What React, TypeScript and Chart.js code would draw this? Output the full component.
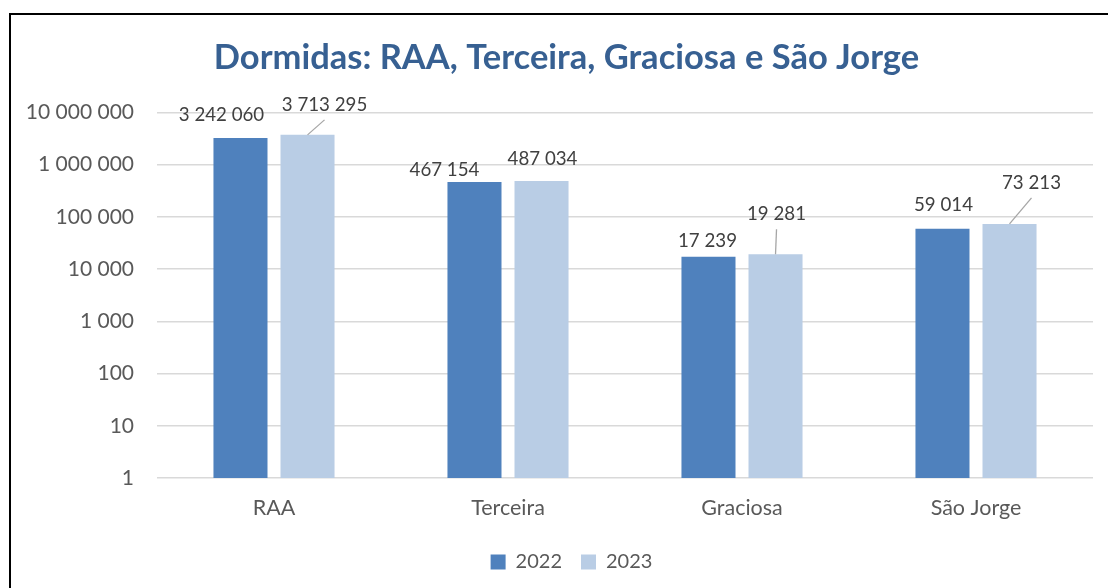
import React, { useEffect, useRef } from "react";
import { Chart, registerables } from "chart.js";

Chart.register(...registerables);

const categories = ["RAA", "Terceira", "Graciosa", "São Jorge"];
const values2022 = [3242060, 467154, 17239, 59014];
const values2023 = [3713295, 487034, 19281, 73213];
const yTicks = [1, 10, 100, 1000, 10000, 100000, 1000000, 10000000];
const seriesLabels = ["2022", "2023"];
const titleText = "Dormidas: RAA, Terceira, Graciosa e São Jorge";

const fmt = (v: number) => String(Math.round(v)).replace(/\B(?=(\d{3})+(?!\d))/g, " ");

// label placement (style): offsets from bar top-centre, and whether a leader line is drawn
const labelOffsets = [
  [
    { dx: -19, dy: -23, leader: false },
    { dx: -30, dy: -12, leader: false },
    { dx: -1, dy: -16, leader: false },
    { dx: 1, dy: -24, leader: false },
  ],
  [
    { dx: 17, dy: -30, leader: true },
    { dx: 1, dy: -22, leader: false },
    { dx: 1, dy: -40, leader: true },
    { dx: 22, dy: -41, leader: true },
  ],
];

const FONT = "Lato, 'Open Sans', sans-serif";

const dataLabelPlugin = {
  id: "dataLabels",
  afterDatasetsDraw(chart: any) {
    const ctx = chart.ctx;
    ctx.save();
    chart.data.datasets.forEach((ds: any, di: number) => {
      const meta = chart.getDatasetMeta(di);
      meta.data.forEach((bar: any, i: number) => {
        const off = labelOffsets[di][i];
        const lx = bar.x + off.dx;
        const ly = bar.y + off.dy;
        if (off.leader) {
          ctx.beginPath();
          ctx.strokeStyle = "#A6A6A6";
          ctx.lineWidth = 1.3;
          ctx.moveTo(bar.x, bar.y);
          ctx.lineTo(lx, ly + 15);
          ctx.stroke();
        }
        ctx.fillStyle = "#404040";
        ctx.font = `18.7px ${FONT}`;
        ctx.textAlign = "center";
        ctx.textBaseline = "middle";
        ctx.fillText(fmt(ds.data[i]), lx, ly);
      });
    });
    ctx.restore();
  },
};

// shift title and legend horizontally so they are centred like the reference
const shiftPlugin = {
  id: "shiftBlocks",
  afterLayout(chart: any) {
    if (chart.titleBlock) {
      chart.titleBlock.left += 20;
      chart.titleBlock.right += 20;
    }
    if (chart.legend) {
      chart.legend.left += 25;
      chart.legend.right += 25;
    }
  },
};

export default function App() {
  const canvasRef = useRef<HTMLCanvasElement | null>(null);

  useEffect(() => {
    if (!canvasRef.current) return;
    const chart = new Chart(canvasRef.current, {
      type: "bar",
      data: {
        labels: categories,
        datasets: [
          {
            label: seriesLabels[0],
            data: values2022,
            backgroundColor: "#4F81BD",
            categoryPercentage: 0.573,
            barPercentage: 0.806,
          },
          {
            label: seriesLabels[1],
            data: values2023,
            backgroundColor: "#B9CDE5",
            categoryPercentage: 0.573,
            barPercentage: 0.806,
          },
        ],
      },
      options: {
        animation: false,
        responsive: false,
        maintainAspectRatio: false,
        layout: { padding: { left: 0, right: 15, top: 0, bottom: 6 } },
        plugins: {
          title: {
            display: true,
            text: titleText,
            color: "#376092",
            font: { family: FONT, size: 34.5, weight: "bold" },
            padding: { top: 37, bottom: 34 },
          },
          legend: {
            display: true,
            position: "bottom",
            labels: {
              boxWidth: 15,
              boxHeight: 15,
              padding: 19,
              color: "#595959",
              font: { family: FONT, size: 20 },
            },
          },
          tooltip: { enabled: false },
        },
        scales: {
          x: {
            grid: { display: false },
            border: { display: false },
            ticks: { color: "#595959", font: { family: FONT, size: 21.5 }, padding: 9 },
            afterFit(scale: any) {
              scale.height = 55;
            },
          },
          y: {
            type: "logarithmic",
            min: 1,
            max: 10000000,
            border: { display: false },
            grid: { color: "#D9D9D9", lineWidth: 1.5, drawTicks: false },
            ticks: {
              color: "#595959",
              font: { family: FONT, size: 21 },
              padding: 23,
              callback: (v: any) => fmt(Number(v)),
            },
            afterBuildTicks(scale: any) {
              scale.ticks = yTicks.map((v) => ({ value: v }));
            },
            afterFit(scale: any) {
              scale.width = 157;
            },
          },
        },
      },
      plugins: [dataLabelPlugin, shiftPlugin],
    });
    return () => chart.destroy();
  }, []);

  return (
    <div style={{ position: "absolute", left: 0, top: 0, width: 1108, height: 588, background: "#fff" }}>
      <canvas ref={canvasRef} width={1108} height={588} style={{ position: "absolute", left: 0, top: 0 }} />
      <div
        style={{
          position: "absolute",
          left: 9,
          top: 13,
          width: 1099,
          height: 575,
          borderTop: "2px solid #000",
          borderLeft: "2px solid #000",
          boxSizing: "border-box",
          pointerEvents: "none",
        }}
      />
    </div>
  );
}
